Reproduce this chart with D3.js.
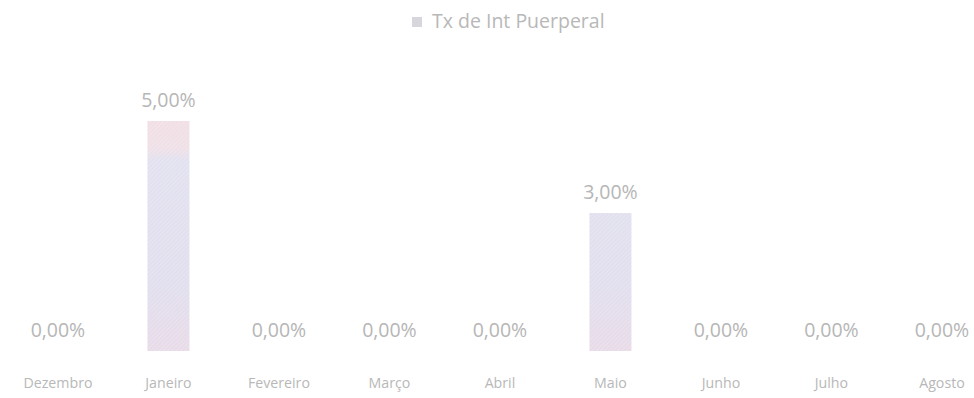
<!DOCTYPE html>
<html>
<head>
<meta charset="utf-8">
<script src="https://cdn.jsdelivr.net/npm/d3@7"></script>
<style>
  html, body { margin: 0; padding: 0; background: #ffffff; }
  svg { display: block; }
  text { font-family: "Open Sans", "DejaVu Sans", sans-serif; }
</style>
</head>
<body>
<svg id="chart" width="974" height="398"></svg>
<script>
// Monthly puerperal infection rate (%)
const categories = ["Dezembro", "Janeiro", "Fevereiro", "Março", "Abril", "Maio", "Junho", "Julho", "Agosto"];
const rates = [0, 5, 0, 0, 0, 3, 0, 0, 0];
const seriesName = "Tx de Int Puerperal";

const svg = d3.select("#chart");

const x = d3.scaleBand()
  .domain(categories)
  .range([2.7, 997.2])
  .paddingInner(0.62)
  .paddingOuter(0.31);

const y = d3.scaleLinear()
  .domain([0, 5])
  .range([351, 121]);

const fmt = v => d3.format(".2f")(v).replace(".", ",") + "%";
const rows = rates.map((v, i) => ({ cat: categories[i], v }));

// Bar fill: soft vertical gradient over the plot height, with a fine diagonal hatch
const defs = svg.append("defs");
const grad = defs.append("linearGradient")
  .attr("id", "barGrad")
  .attr("gradientUnits", "userSpaceOnUse")
  .attr("x1", 0).attr("y1", y(5)).attr("x2", 0).attr("y2", y(0));
[
  [0, "#f1dfe4"], [0.12, "#efe0e7"], [0.17, "#e2e1ef"],
  [0.7, "#e1dfee"], [1, "#e8dbe8"]
].forEach(([o, c]) => grad.append("stop").attr("offset", o).attr("stop-color", c));

const hatch = defs.append("pattern")
  .attr("id", "hatch")
  .attr("width", 3).attr("height", 3)
  .attr("patternUnits", "userSpaceOnUse")
  .attr("patternTransform", "rotate(45)");
hatch.append("line")
  .attr("x1", 0).attr("y1", 0).attr("x2", 0).attr("y2", 3)
  .attr("stroke", "#ffffff").attr("stroke-width", 1).attr("stroke-opacity", 0.35);

const bars = svg.append("g");
["url(#barGrad)", "url(#hatch)"].forEach(fill => {
  bars.append("g")
    .selectAll("rect")
    .data(rows.filter(d => d.v > 0))
    .join("rect")
    .attr("x", d => x(d.cat))
    .attr("y", d => y(d.v))
    .attr("width", x.bandwidth())
    .attr("height", d => y(0) - y(d.v))
    .attr("fill", fill);
});

// Value labels
svg.append("g")
  .selectAll("text")
  .data(rows)
  .join("text")
  .attr("x", d => x(d.cat) + x.bandwidth() / 2)
  .attr("y", d => y(d.v) - 14)
  .attr("text-anchor", "middle")
  .attr("font-size", 19.5)
  .attr("fill", "#b6b6b6")
  .text(d => fmt(d.v));

// Category axis (labels only)
const xAxis = d3.axisBottom(x).tickSize(0).tickPadding(0);
const gx = svg.append("g")
  .attr("transform", "translate(0,378)")
  .call(xAxis);
gx.select(".domain").remove();
gx.selectAll("text")
  .attr("font-size", 14.2)
  .attr("fill", "#b8b8b8")
  .attr("font-family", "\"Open Sans\", sans-serif");

// Legend
const legend = svg.append("g").attr("transform", "translate(412,17)");
legend.append("rect")
  .attr("width", 10).attr("height", 10)
  .attr("fill", "#d6d6dc");
legend.append("text")
  .attr("x", 20).attr("y", 11)
  .attr("font-size", 19.5)
  .attr("fill", "#b8b8b8")
  .text(seriesName);
</script>
</body>
</html>
